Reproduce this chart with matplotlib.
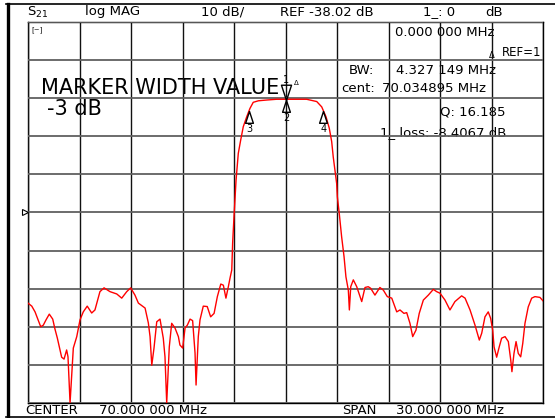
"""Network analyzer S21 trace: band-pass filter with -3 dB marker width readout."""
import matplotlib
matplotlib.use("Agg")
import matplotlib.pyplot as plt
from matplotlib.lines import Line2D

# trace (MHz, dB)
freq_mhz = [
    55.00, 55.22, 55.41, 55.74, 55.89, 56.05, 56.24, 56.44, 56.57, 56.71,
    56.96, 57.10, 57.25, 57.33, 57.45, 57.64, 57.84, 58.03, 58.22, 58.45,
    58.71, 58.90, 59.19, 59.43, 59.78, 60.17, 60.46, 60.75, 60.98, 61.23,
    61.43, 61.82, 62.01, 62.11, 62.21, 62.34, 62.50, 62.69, 62.88, 62.98,
    63.08, 63.23, 63.37, 63.56, 63.76, 63.85, 64.01, 64.15, 64.28, 64.44,
    64.59, 64.73, 64.79, 64.92, 65.02, 65.21, 65.44, 65.64, 65.84, 66.03,
    66.23, 66.38, 66.53, 66.67, 66.77, 66.87, 66.92, 67.00, 67.12, 67.25,
    67.39, 67.54, 67.74, 67.93, 68.12, 68.42, 68.90, 69.48, 70.07, 70.65,
    71.23, 71.82, 72.11, 72.36, 72.55, 72.69, 72.78, 72.88, 72.98, 73.02,
    73.13, 73.27, 73.41, 73.52, 73.66, 73.72, 73.80, 73.95, 74.15, 74.44,
    74.63, 74.82, 74.96, 75.21, 75.50, 75.70, 75.93, 76.19, 76.48, 76.67,
    76.90, 77.06, 77.25, 77.41, 77.60, 77.79, 78.03, 78.32, 78.61, 78.81,
    79.00, 79.29, 79.58, 79.87, 80.26, 80.46, 80.75, 81.04, 81.29, 81.43,
    81.62, 81.81, 81.95, 82.07, 82.15, 82.30, 82.45, 82.59, 82.79, 82.98,
    83.12, 83.19, 83.31, 83.43, 83.56, 83.70, 83.82, 83.95, 84.14, 84.34,
    84.53, 84.82, 85.00,
]
s21_db = [
    -61.8, -62.6, -64.1, -68.0, -67.6, -66.2, -64.7, -66.0, -68.6, -71.0,
    -76.0, -76.5, -74.1, -75.9, -88.0, -73.6, -70.6, -66.2, -64.1, -62.6,
    -64.4, -63.6, -58.8, -57.8, -58.8, -59.4, -60.5, -58.8, -57.8, -59.7,
    -61.8, -63.1, -67.0, -70.6, -78.1, -73.6, -66.7, -66.0, -71.0, -75.9,
    -88.0, -73.3, -67.1, -68.3, -70.6, -72.8, -73.6, -68.3, -67.6, -66.0,
    -66.4, -74.9, -83.3, -70.6, -66.2, -62.6, -62.7, -65.4, -64.5, -60.1,
    -56.8, -57.1, -60.5, -57.5, -55.2, -53.1, -46.1, -39.1, -29.5, -22.5,
    -19.0, -15.5, -12.9, -10.7, -9.1, -8.7, -8.5, -8.3, -8.3, -8.3,
    -8.3, -8.9, -10.3, -12.9, -15.9, -19.4, -23.4, -26.9, -30.4, -33.9,
    -38.2, -44.4, -49.6, -54.9, -58.4, -63.6, -57.5, -55.7, -57.5, -61.4,
    -57.7, -57.5, -57.9, -59.7, -57.7, -58.4, -60.1, -60.5, -64.1, -63.6,
    -64.5, -64.3, -67.1, -70.6, -68.9, -64.5, -61.0, -59.7, -58.2, -58.8,
    -59.2, -61.0, -63.6, -61.4, -59.9, -60.5, -63.6, -67.6, -71.5, -69.7,
    -65.4, -64.1, -65.8, -68.9, -73.3, -76.0, -73.3, -71.0, -70.6, -71.9,
    -76.7, -79.8, -75.0, -71.9, -75.0, -75.9, -72.4, -67.1, -62.8, -60.5,
    -60.1, -60.3, -61.2,
]

# markers: 1 (reference), 2 (centre), 3 and 4 (-3 dB edges)
marker_ids = ["1", "2", "3", "4"]
marker_freq = [70.035, 70.035, 67.87, 72.20]
marker_db = [-8.4, -8.4, -11.4, -11.4]

center_mhz = 70.0
span_mhz = 30.0
ref_db = -38.02
db_per_div = 10.0

header = ["log MAG", "10 dB/", "REF -38.02 dB", "1_: 0", "dB"]
footer = ["CENTER", "70.000 000 MHz", "SPAN", "30.000 000 MHz"]

plt.rcParams["font.family"] = ["DejaVu Sans"]

W, H = 555, 418
fig = plt.figure(figsize=(W / 100, H / 100), dpi=100)
fig.patch.set_facecolor("white")


def fx(px):
    return px / W


def fy(py):
    return 1 - py / H


ax = fig.add_axes([fx(28), fy(403), fx(543) - fx(28), fy(22) - fy(403)])
x0, x1 = center_mhz - span_mhz / 2, center_mhz + span_mhz / 2
y0, y1 = ref_db - 5 * db_per_div, ref_db + 5 * db_per_div
ax.set_xlim(x0, x1)
ax.set_ylim(y0, y1)
ax.set_xticks([x0 + i * span_mhz / 10 for i in range(11)])
ax.set_yticks([y0 + i * db_per_div for i in range(11)])
ax.tick_params(length=0, labelbottom=False, labelleft=False)
ax.grid(True, axis="x", color="#111111", lw=1.0)
ax.grid(True, axis="y", color="#606060", lw=1.3)
ax.set_axisbelow(False)
for sp in ax.spines.values():
    sp.set_color("black")
    sp.set_linewidth(1.0)

ax.plot(freq_mhz, s21_db, color="#ff0000", lw=1.0, zorder=3)

# marker triangles (apex on the trace)
up_tri = [(0, 0), (-0.33, -1), (0.33, -1), (0, 0)]
down_tri = [(0, 0), (-0.33, 1), (0.33, 1), (0, 0)]
for mid, mf, md in zip(marker_ids, marker_freq, marker_db):
    if mid == "1":
        ax.plot(mf, md, marker=down_tri, ms=22, mfc="none", mec="black",
                mew=1.0, zorder=4)
        ax.annotate(mid, (mf, md), xytext=(0, 14), textcoords="offset points",
                    ha="center", va="center", fontsize=7, zorder=5)
        ax.annotate("\u0394", (mf, md), xytext=(7, 12), textcoords="offset points",
                    ha="center", va="center", fontsize=5, zorder=5)
    else:
        ax.plot(mf, md, marker=up_tri, ms=17, mfc="none", mec="black",
                mew=1.0, zorder=4)
        ax.annotate(mid, (mf, md), xytext=(0, -13), textcoords="offset points",
                    ha="center", va="center", fontsize=7, zorder=5)

# reference level pointer at the left edge
ax.plot([x0 - 0.2], [ref_db], marker=">", ms=4.5, mfc="white", mec="black",
        mew=0.8, clip_on=False, zorder=5)


def ax_text(px, py, s, **kw):
    t = ax.text((px - 28) / 515, (403 - py) / 381, s, transform=ax.transAxes,
                va="center", zorder=2, **kw)
    t.set_clip_path(ax.patch)
    return t


ax_text(31, 30, "[~]", fontsize=5)
ax_text(41, 88, "MARKER WIDTH VALUE", fontsize=15)
ax_text(47, 109, "-3 dB", fontsize=15)
ax_text(395, 32, "0.000 000 MHz", fontsize=9.5)
ax_text(492, 55, "\u0394", fontsize=6, ha="center")
ax_text(541, 53, "REF=1", fontsize=8.5, ha="right")
ax_text(349, 70, "BW:", fontsize=9.5)
ax_text(396, 70, "4.327 149 MHz", fontsize=9.5)
ax_text(341, 89, "cent:", fontsize=9.5)
ax_text(382, 89, "70.034895 MHz", fontsize=9.5)
ax_text(440, 112, "Q: 16.185", fontsize=9.5)
ax_text(380, 133, "1_ loss: -8.4067 dB", fontsize=9.5)

# header and footer
hy = fy(12)
fig.text(fx(27), hy, r"S$_{21}$", fontsize=9.5, va="center")
for s, px in zip(header, [85, 201, 280, 423, 485]):
    fig.text(fx(px), hy, s, fontsize=9.5, va="center")
by = fy(411)
for s, px in zip(footer, [25, 99, 342, 396]):
    fig.text(fx(px), by, s, fontsize=9.5, va="center")

# outer frame of the screenshot
fig.add_artist(Line2D([fx(6), 1], [fy(4), fy(4)], color="black", lw=1.2))
fig.add_artist(Line2D([fx(7.5), fx(7.5)], [fy(4), fy(418)], color="black", lw=2.4))
fig.add_artist(Line2D([fx(6), 1], [fy(417), fy(417)], color="black", lw=1.2))

fig.savefig("out.png", dpi=100)
plt.close(fig)
